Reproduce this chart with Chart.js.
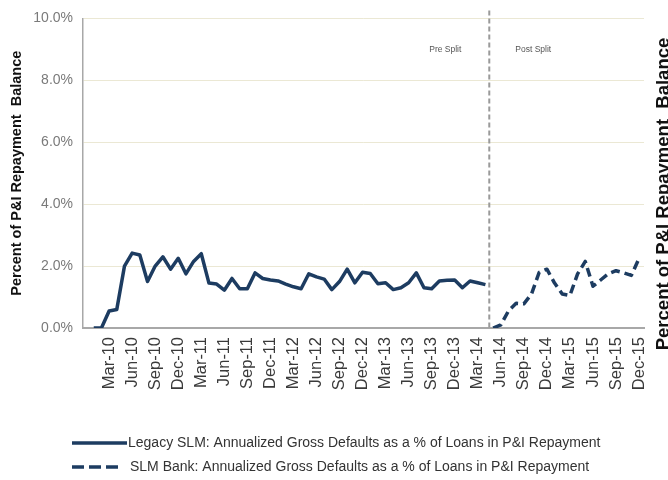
<!DOCTYPE html>
<html>
<head>
<meta charset="utf-8">
<script src="https://cdn.jsdelivr.net/npm/chart.js@4.4.1/dist/chart.umd.min.js"></script>
<style>
  html, body { margin: 0; padding: 0; background: #fff; }
  canvas { display: block; }
</style>
</head>
<body>
<canvas id="chart" width="668" height="480"></canvas>
<script>
const months = [
  'Jan-10','Feb-10','Mar-10','Apr-10','May-10','Jun-10','Jul-10','Aug-10','Sep-10','Oct-10','Nov-10','Dec-10',
  'Jan-11','Feb-11','Mar-11','Apr-11','May-11','Jun-11','Jul-11','Aug-11','Sep-11','Oct-11','Nov-11','Dec-11',
  'Jan-12','Feb-12','Mar-12','Apr-12','May-12','Jun-12','Jul-12','Aug-12','Sep-12','Oct-12','Nov-12','Dec-12',
  'Jan-13','Feb-13','Mar-13','Apr-13','May-13','Jun-13','Jul-13','Aug-13','Sep-13','Oct-13','Nov-13','Dec-13',
  'Jan-14','Feb-14','Mar-14','Apr-14','May-14','Jun-14','Jul-14','Aug-14','Sep-14','Oct-14','Nov-14','Dec-14',
  'Jan-15','Feb-15','Mar-15','Apr-15','May-15','Jun-15','Jul-15','Aug-15','Sep-15','Oct-15','Nov-15','Dec-15'
];

// Legacy SLM, Jan-10 .. Apr-14 (percent)
const legacyValues = [
  0, 0, 0.55, 0.6, 2.0, 2.42, 2.36, 1.5, 2.0, 2.3, 1.9, 2.25,
  1.75, 2.15, 2.4, 1.45, 1.42, 1.22, 1.6, 1.27, 1.27, 1.78, 1.6, 1.55,
  1.52, 1.42, 1.33, 1.27, 1.75, 1.65, 1.58, 1.24, 1.5, 1.9, 1.46, 1.8,
  1.76, 1.43, 1.46, 1.24, 1.3, 1.46, 1.78, 1.3, 1.27, 1.52, 1.54, 1.55,
  1.3, 1.52, 1.46, 1.4
];

// SLM Bank, May-14 .. Dec-15 (percent)
const bankStart = 'May-14';
const bankValues = [
  0, 0.1, 0.55, 0.8, 0.78, 1.1, 1.8, 1.9,
  1.45, 1.1, 1.05, 1.75, 2.15, 1.35, 1.55, 1.75, 1.85, 1.78, 1.7, 2.25
];

const seriesNames = [
  'Legacy SLM: Annualized Gross Defaults as a % of Loans in P&I Repayment',
  'SLM Bank: Annualized Gross Defaults as a % of Loans in P&I Repayment'
];
const yTicks = [0, 2, 4, 6, 8, 10];
const axisTitle = 'Percent of P&I Repayment  Balance';
const splitLabels = ['Pre Split', 'Post Split'];

const FONT = "'Liberation Sans', Arial, sans-serif";
const NAVY = '#1d3c61';

const bankOffset = months.indexOf(bankStart);
const legacyPoints = legacyValues.map((v, i) => ({ x: i, y: v }));
const bankPoints = bankValues.map((v, i) => ({ x: i + bankOffset, y: v }));

const extras = {
  id: 'extras',
  beforeDatasetsDraw(chart) {
    const { ctx, chartArea, scales: { x, y } } = chart;
    const sx = (x.getPixelForValue(bankOffset - 1) + x.getPixelForValue(bankOffset)) / 2;
    ctx.save();
    ctx.strokeStyle = '#9a9a9a';
    ctx.lineWidth = 2;
    ctx.setLineDash([5, 3]);
    ctx.beginPath();
    ctx.moveTo(sx, chartArea.top - 8);
    ctx.lineTo(sx, chartArea.bottom);
    ctx.stroke();
    ctx.setLineDash([]);
    ctx.fillStyle = '#555';
    ctx.font = '8.5px ' + FONT;
    ctx.textAlign = 'center';
    ctx.textBaseline = 'middle';
    const ty = y.getPixelForValue(9.0);
    ctx.fillText(splitLabels[0], sx - 44, ty);
    ctx.fillText(splitLabels[1], sx + 44, ty);
    ctx.restore();
  },
  afterDraw(chart) {
    const { ctx } = chart;
    ctx.save();
    // legend
    const rows = [
      { y: 443, x0: 72, x1: 127, tx: 128, dash: [] },
      { y: 467, x0: 72, x1: 118, tx: 130, dash: [12, 5] }
    ];
    rows.forEach((r, i) => {
      ctx.strokeStyle = NAVY;
      ctx.lineWidth = 3.5;
      ctx.setLineDash(r.dash);
      ctx.beginPath();
      ctx.moveTo(r.x0, r.y);
      ctx.lineTo(r.x1, r.y);
      ctx.stroke();
      ctx.setLineDash([]);
      ctx.fillStyle = '#333';
      ctx.font = '14px ' + FONT;
      ctx.textAlign = 'left';
      ctx.textBaseline = 'middle';
      ctx.fillText(seriesNames[i], r.tx, r.y);
    });
    // right axis title (cut by the edge)
    ctx.translate(664, 194);
    ctx.rotate(-Math.PI / 2);
    ctx.fillStyle = '#111';
    ctx.font = 'bold 18.5px ' + FONT;
    ctx.textAlign = 'center';
    ctx.textBaseline = 'middle';
    ctx.fillText(axisTitle, 0, 0);
    ctx.restore();
  }
};

new Chart(document.getElementById('chart'), {
  type: 'line',
  data: {
    datasets: [{
      label: seriesNames[0],
      data: legacyPoints,
      borderColor: NAVY,
      borderWidth: 3.5,
      borderJoinStyle: 'round',
      pointRadius: 0,
      tension: 0,
      fill: false
    }, {
      label: seriesNames[1],
      data: bankPoints,
      borderColor: NAVY,
      borderWidth: 3.5,
      borderDash: [9, 5],
      borderJoinStyle: 'round',
      pointRadius: 0,
      tension: 0,
      fill: false
    }]
  },
  options: {
    responsive: false,
    animation: false,
    layout: { padding: { left: 8, right: 18, top: 13, bottom: 82 } },
    plugins: {
      legend: { display: false },
      tooltip: { enabled: false }
    },
    scales: {
      x: {
        type: 'linear',
        min: -1.4,
        max: 71.65,
        afterBuildTicks: (scale) => {
          scale.ticks = months.map((m, i) => ({ value: i })).filter(t => t.value % 3 === 2);
        },
        afterFit: (scale) => { scale.height = 70; },
        grid: { display: false, drawTicks: false },
        border: { display: true, color: '#a8a8a8', width: 2 },
        ticks: {
          autoSkip: false,
          maxRotation: 90,
          minRotation: 90,
          padding: 9,
          color: '#3a3a3a',
          font: { family: FONT, size: 16.5 },
          callback: (v) => months[v]
        }
      },
      y: {
        min: 0,
        max: 10,
        afterBuildTicks: (scale) => {
          scale.ticks = yTicks.map(v => ({ value: v }));
        },
        afterFit: (scale) => { scale.width = 75; },
        grid: { color: '#ebe8d4', lineWidth: 1, drawTicks: false },
        border: { display: true, color: '#a8a8a8', width: 1.5 },
        ticks: {
          padding: 10,
          color: '#7a7a7a',
          font: { family: FONT, size: 14 },
          callback: (v) => v.toFixed(1) + '%'
        },
        title: {
          display: true,
          text: axisTitle,
          color: '#111',
          padding: 0,
          font: { family: FONT, size: 14.5, weight: 'bold' }
        }
      }
    }
  },
  plugins: [extras]
});
</script>
</body>
</html>
